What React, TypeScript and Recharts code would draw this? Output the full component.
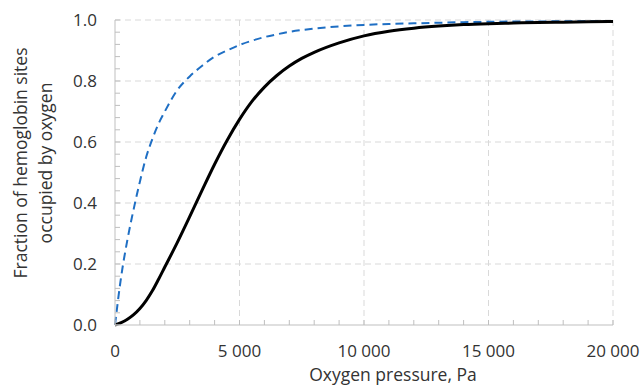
import { CartesianGrid, Label, Line, LineChart, XAxis, YAxis } from "recharts";

const pressure = [
  0, 250, 500, 750, 1000, 1250, 1500, 1750, 2000, 2500, 3000, 3500, 4000, 4500, 5000, 5500, 6000, 6500, 7000,
  7500, 8000, 9000, 10000, 11000, 12000, 13000, 14000, 15000, 16000, 17000, 18000, 19000, 20000,
];
const hemoglobin = [
  0, 0.008, 0.019, 0.034, 0.054, 0.08, 0.112, 0.15, 0.19, 0.27, 0.355, 0.442, 0.527, 0.605, 0.674, 0.733,
  0.78, 0.818, 0.849, 0.874, 0.894, 0.925, 0.948, 0.963, 0.973, 0.98, 0.985, 0.988, 0.99, 0.992, 0.993, 0.994,
  0.995,
];
const myoglobin = [
  0, 0.16, 0.28, 0.38, 0.47, 0.55, 0.61, 0.66, 0.7, 0.77, 0.815, 0.85, 0.88, 0.9, 0.918, 0.932, 0.944, 0.953,
  0.961, 0.967, 0.972, 0.979, 0.984, 0.987, 0.989, 0.991, 0.993, 0.994, 0.995, 0.995, 0.996, 0.996, 0.997,
];

const xTicks = [
  0, 1000, 2000, 3000, 4000, 5000, 6000, 7000, 8000, 9000, 10000, 11000, 12000, 13000, 14000, 15000, 16000,
  17000, 18000, 19000, 20000,
];
const yTicks = [
  0, 0.04, 0.08, 0.12, 0.16, 0.2, 0.24, 0.28, 0.32, 0.36, 0.4, 0.44, 0.48, 0.52, 0.56, 0.6, 0.64, 0.68, 0.72,
  0.76, 0.8, 0.84, 0.88, 0.92, 0.96, 1.0,
];
const xGrid = [5000, 10000, 15000, 20000];
const yGrid = [0.2, 0.4, 0.6, 0.8, 1.0];

const data = pressure.map((p, i) => ({ p, hb: hemoglobin[i], mb: myoglobin[i] }));

const font = "'Open Sans', 'Noto Sans', sans-serif";
const textColor = "#333333";

const fmtX = (v: number) => (v % 5000 === 0 ? v.toLocaleString("en-US").replace(/,/g, " ") : "");
const fmtY = (v: number) => (Math.abs(v * 5 - Math.round(v * 5)) < 1e-6 ? v.toFixed(1) : "");

const YTitle = () => (
  <text transform="rotate(-90)" textAnchor="middle" fill={textColor} fontSize={17.5} fontFamily={font}>
    <tspan x={-163} y={27}>Fraction of hemoglobin sites</tspan>
    <tspan x={-163} y={52}>occupied by oxygen</tspan>
  </text>
);

const App = () => {
  return (
    <div>
      <style>{`body{margin:0;background:#fff}`}</style>
      <LineChart width={644} height={388} data={data} margin={{ top: 20, right: 31, bottom: 0, left: 0 }}>
        <CartesianGrid
          stroke="#d9d9d9"
          strokeDasharray="6 4"
          verticalValues={xGrid}
          horizontalValues={yGrid}
        />
        <XAxis
          dataKey="p"
          type="number"
          domain={[0, 20000]}
          ticks={xTicks}
          tickFormatter={fmtX}
          interval={0}
          height={63}
          stroke="#bfbfbf"
          tickSize={-5}
          tickMargin={25}
          tick={{ fill: textColor, fontSize: 17, fontFamily: font }}
        >
          <Label
            value="Oxygen pressure, Pa"
            position="insideBottom"
            offset={7}
            dx={29}
            fill={textColor}
            fontSize={17.5}
            fontFamily={font}
          />
        </XAxis>
        <YAxis
          type="number"
          domain={[0, 1]}
          ticks={yTicks}
          tickFormatter={fmtY}
          interval={0}
          width={115}
          stroke="#bfbfbf"
          tickSize={-5}
          tickMargin={23}
          tick={{ fill: textColor, fontSize: 17, fontFamily: font }}
        >
          <Label content={<YTitle />} />
        </YAxis>
        <Line
          type="monotone"
          dataKey="mb"
          stroke="#1f6fc4"
          strokeWidth={2}
          strokeDasharray="8 5"
          dot={false}
          isAnimationActive={false}
        />
        <Line
          type="monotone"
          dataKey="hb"
          stroke="#000000"
          strokeWidth={3}
          dot={false}
          isAnimationActive={false}
        />
      </LineChart>
    </div>
  );
};

export default App;
